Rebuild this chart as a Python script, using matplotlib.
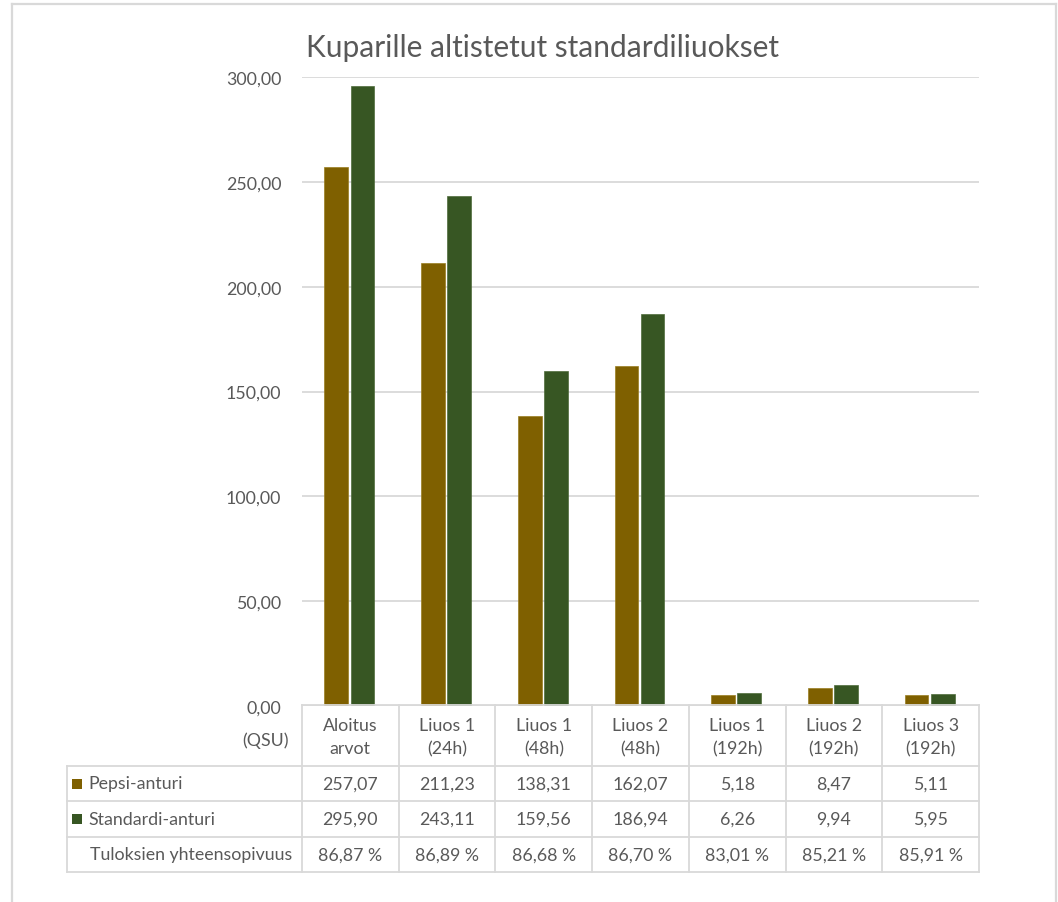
import matplotlib
matplotlib.use("Agg")
import matplotlib.pyplot as plt
from matplotlib.lines import Line2D
from matplotlib.patches import Rectangle
import matplotlib.transforms as mtransforms

plt.rcParams['font.family'] = ['Lato', 'DejaVu Sans']

# Data
categories = ["Aloitus\narvot", "Liuos 1\n(24h)", "Liuos 1\n(48h)", "Liuos 2\n(48h)",
              "Liuos 1\n(192h)", "Liuos 2\n(192h)", "Liuos 3\n(192h)"]
pepsi = [257.07, 211.23, 138.31, 162.07, 5.18, 8.47, 5.11]
standardi = [295.90, 243.11, 159.56, 186.94, 6.26, 9.94, 5.95]
yhteensopivuus = [86.87, 86.89, 86.68, 86.70, 83.01, 85.21, 85.91]
series_names = ["Pepsi-anturi", "Standardi-anturi"]

gold = "#7f6000"
green = "#375623"
grid_col = "#d9d9d9"
text_col = "#595959"

W, H = 1058, 903
fig = plt.figure(figsize=(W / 100, H / 100), dpi=100)
fig.patch.set_facecolor("white")


def fy(y):
    # pixel row (from top) -> figure fraction
    return 1 - y / H


def fx(x):
    return x / W


# outer chart frame
for xs, ys in [((12, 12), (5, H)), ((12, 1056), (5, 5)), ((1056, 1056), (5, H))]:
    fig.add_artist(Line2D([fx(v) for v in xs], [fy(v) for v in ys], color=grid_col, lw=1.6))

ax = fig.add_axes([fx(302), fy(707), fx(979 - 302), (707 - 78) / H])
x = list(range(len(categories)))
ax.bar([i - 0.145 for i in x], pepsi, width=0.245, color=gold, edgecolor="#9a7d20", linewidth=0.5, zorder=3)
ax.bar([i + 0.125 for i in x], standardi, width=0.245, color=green, edgecolor="#4e6b3a", linewidth=0.5, zorder=3)
ax.set_xlim(-0.5, len(categories) - 0.5)
ax.set_ylim(0, 300)
ax.set_yticks(range(0, 301, 50))
ax.set_yticklabels([f"{v:.2f}".replace(".", ",") for v in range(0, 301, 50)],
                   fontsize=12.8, color=text_col)
ax.tick_params(axis="y", length=0, pad=15)
ax.set_xticks([])
ax.yaxis.grid(True, color=grid_col, lw=1.3, zorder=0)
for s in ax.spines.values():
    s.set_visible(False)

fig.text(fx(543), fy(48), "Kuparille altistetut standardiliuokset", ha="center", va="center",
         fontsize=21.5, color=text_col)

# data table below the axis, columns follow the category positions
trans = mtransforms.blended_transform_factory(ax.transData, fig.transFigure)
rows_y = [706, 766.7, 802.3, 837.7, 873.3]
n = len(categories)
left_px = 67

for k in range(n + 1):
    fig.add_artist(Line2D([k - 0.5, k - 0.5], [fy(rows_y[0]), fy(rows_y[-1])],
                          transform=trans, color=grid_col, lw=1.3))
fig.add_artist(Line2D([-0.5, n - 0.5], [fy(rows_y[0]), fy(rows_y[0])],
                      transform=trans, color=grid_col, lw=1.3))
for y in rows_y[1:]:
    fig.add_artist(Line2D([fx(left_px), fx(979)], [fy(y), fy(y)], color=grid_col, lw=1.3))
fig.add_artist(Line2D([fx(left_px), fx(left_px)], [fy(rows_y[1]), fy(rows_y[-1])],
                      color=grid_col, lw=1.3))

hdr_y = (rows_y[0] + rows_y[1]) / 2 + 1
for i, c in enumerate(categories):
    fig.text(i, fy(hdr_y), c, transform=trans, ha="center", va="center",
             fontsize=12.8, color=text_col, linespacing=1.55)
fig.text(fx(289), fy(741), "(QSU)", ha="right", va="center", fontsize=12.8, color=text_col)

row_vals = [
    [f"{v:.2f}".replace(".", ",") for v in pepsi],
    [f"{v:.2f}".replace(".", ",") for v in standardi],
    [f"{v:.2f}".replace(".", ",") + " %" for v in yhteensopivuus],
]
row_labels = series_names + ["Tuloksien yhteensopivuus"]
row_colors = [gold, green, None]
for r in range(3):
    yc = (rows_y[r + 1] + rows_y[r + 2]) / 2
    for i, t in enumerate(row_vals[r]):
        fig.text(i, fy(yc), t, transform=trans, ha="center", va="center",
                 fontsize=12.8, color=text_col)
    if row_colors[r] is not None:
        fig.add_artist(Rectangle((fx(72), fy(yc + 5)), fx(10), 10 / H,
                                 facecolor=row_colors[r], edgecolor="none"))
        fig.text(fx(88), fy(yc), row_labels[r], ha="left", va="center", fontsize=12.8, color=text_col)
    else:
        fig.text(fx(90), fy(yc), row_labels[r], ha="left", va="center", fontsize=12.8, color=text_col)

fig.savefig("out.png", dpi=100, facecolor="white")
